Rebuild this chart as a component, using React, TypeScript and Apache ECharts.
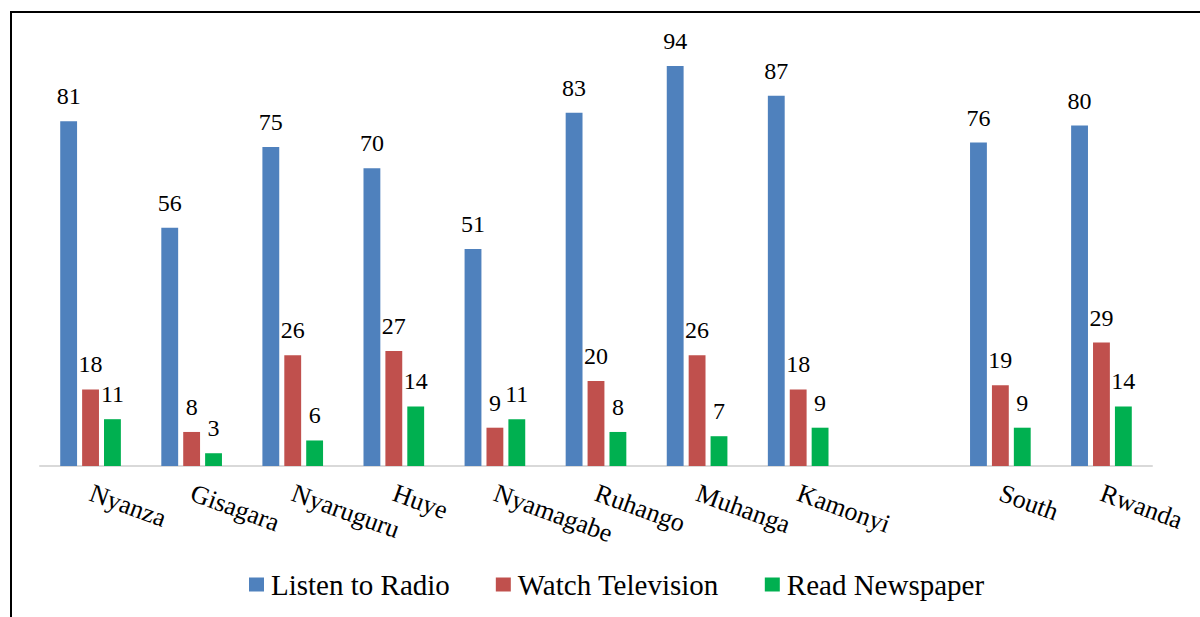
import React, { useEffect, useRef } from "react";
import * as echarts from "echarts";

const categories = ["Nyanza", "Gisagara", "Nyaruguru", "Huye", "Nyamagabe", "Ruhango", "Muhanga", "Kamonyi", "", "South", "Rwanda"];
const radio = [81, 56, 75, 70, 51, 83, 94, 87, null, 76, 80];
const television = [18, 8, 26, 27, 9, 20, 26, 18, null, 19, 29];
const newspaper = [11, 3, 6, 14, 11, 8, 7, 9, null, 9, 14];
const legendNames = ["Listen to Radio", "Watch Television", "Read Newspaper"];

const FONT = "Liberation Serif";

export default function App() {
  const ref = useRef<HTMLDivElement>(null);
  useEffect(() => {
    if (!ref.current) return;
    const chart = echarts.init(ref.current, undefined, { renderer: "svg" });
    const label = {
      show: true,
      position: "top" as const,
      distance: 13,
      color: "#000",
      fontFamily: FONT,
      fontSize: 24,
    };
    const mk = (name: string, data: (number | null)[], color: string) => ({
      name,
      type: "bar" as const,
      data,
      itemStyle: { color },
      barGap: "30%",
      barCategoryGap: "40%",
      label,
    });
    chart.setOption({
      animation: false,
      textStyle: { fontFamily: FONT },
      graphic: [
        {
          type: "rect",
          shape: { x: 11, y: 12, width: 1400, height: 800 },
          style: { fill: "none", stroke: "#000", lineWidth: 2 },
          silent: true,
        },
      ],
      grid: { left: 40, right: 48, top: 40.5, bottom: 151, containLabel: false },
      legend: {
        top: 565,
        left: 244,
        itemWidth: 15,
        itemHeight: 14,
        itemGap: 46,
        icon: "rect",
        textStyle: { fontFamily: FONT, fontSize: 29, color: "#000", padding: [0, 0, 0, 2] },
        data: legendNames,
      },
      xAxis: {
        type: "category",
        data: categories,
        axisLine: { lineStyle: { color: "#d9d9d9", width: 2 } },
        axisTick: { show: false },
        axisLabel: {
          interval: 0,
          rotate: -20,
          margin: 26,
          color: "#000",
          fontFamily: FONT,
          fontSize: 26,
        },
      },
      yAxis: {
        type: "value",
        min: 0,
        max: 100,
        show: false,
        splitLine: { show: false },
      },
      series: [
        mk(legendNames[0], radio, "#4F81BD"),
        mk(legendNames[1], television, "#C0504D"),
        mk(legendNames[2], newspaper, "#00B050"),
      ],
    });
    return () => chart.dispose();
  }, []);
  return (
    <div
      ref={ref}
      style={{ position: "absolute", left: 0, top: 0, width: 1200, height: 617, background: "#fff" }}
    />
  );
}
